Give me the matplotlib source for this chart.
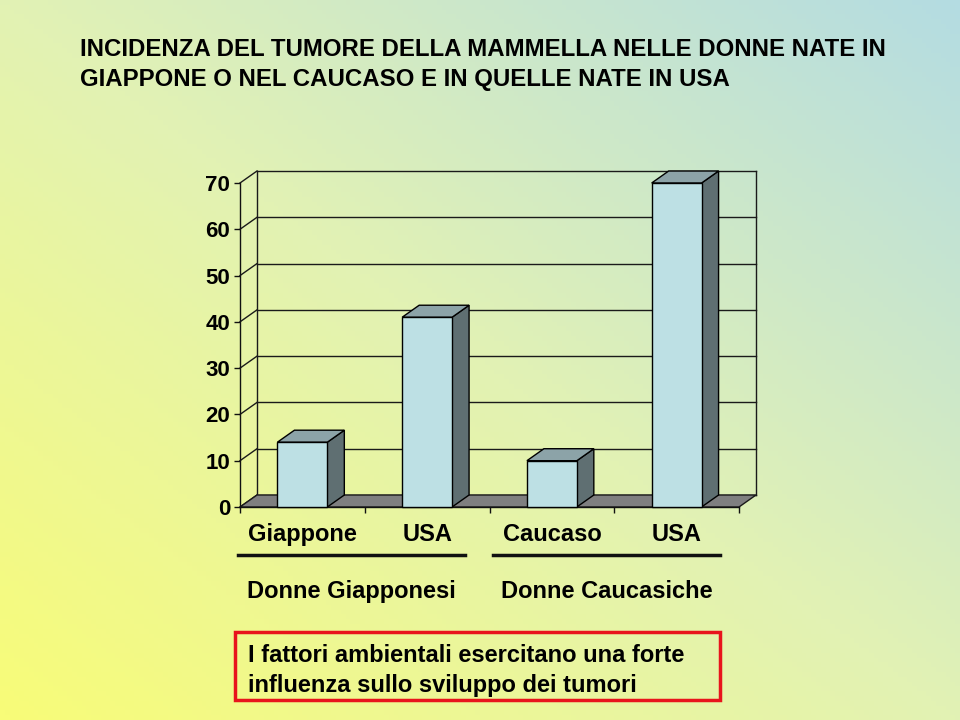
import numpy as np
import matplotlib
matplotlib.use('Agg')
import matplotlib.pyplot as plt
from matplotlib.colors import LinearSegmentedColormap
from matplotlib.patches import Polygon, Rectangle
from matplotlib.lines import Line2D
from matplotlib.transforms import blended_transform_factory

# dati
categorie = ["Giappone", "USA", "Caucaso", "USA"]
valori = [14, 41, 10, 70]
gruppi = ["Donne Giapponesi", "Donne Caucasiche"]
titolo = ["INCIDENZA DEL TUMORE DELLA MAMMELLA NELLE DONNE NATE IN",
          "GIAPPONE O NEL CAUCASO E IN QUELLE NATE IN USA"]
nota = ["I fattori ambientali esercitano una forte",
        "influenza sullo sviluppo dei tumori"]
yticks = np.arange(0, 80, 10)

plt.rcParams['font.family'] = ['Liberation Sans', 'DejaVu Sans']
plt.rcParams['font.weight'] = 'bold'

W, H = 960, 720
fig = plt.figure(figsize=(W / 100, H / 100), dpi=100)

# sfondo sfumato giallo -> azzurro
bg = fig.add_axes([0, 0, 1, 1], zorder=-10)
u, v = np.meshgrid(np.linspace(0, 1, 200), np.linspace(1, 0, 150))
cmap = LinearSegmentedColormap.from_list("bg", ["#f8fc78", "#e2f2b4", "#b4dce2"])
bg.imshow((u + v) / 2, cmap=cmap, vmin=0, vmax=1, aspect='auto', extent=[0, 1, 0, 1])
bg.axis('off')

# piano frontale del grafico
ax = fig.add_axes([240 / W, 1 - 507 / H, 499 / W, 324 / H])
ax.set_xlim(0, len(categorie))
ax.set_ylim(0, 70)
ax.patch.set_alpha(0)
for s in ['top', 'right']:
    ax.spines[s].set_visible(False)
for s in ['left', 'bottom']:
    ax.spines[s].set_color('#111111')
    ax.spines[s].set_linewidth(1)

# profondita' 3D in unita' dati (17 px a destra, 12 px in alto)
o = ax.transData.transform((0, 0))
ddx, ddy = ax.transData.inverted().transform(o + np.array([17, 12]))

lc = '#1a1a1a'
x0, x1 = 0, len(categorie)
# griglia parete di fondo e parete sinistra
for t in yticks:
    ax.plot([x0 + ddx, x1 + ddx], [t + ddy, t + ddy], color=lc, lw=1, clip_on=False, zorder=1)
    ax.plot([x0, x0 + ddx], [t, t + ddy], color=lc, lw=1, clip_on=False, zorder=1)
ax.plot([x0 + ddx, x0 + ddx], [ddy, 70 + ddy], color=lc, lw=1, clip_on=False, zorder=1)
ax.plot([x1 + ddx, x1 + ddx], [ddy, 70 + ddy], color=lc, lw=1, clip_on=False, zorder=1)

# pavimento
ax.add_patch(Polygon([(x0, 0), (x1, 0), (x1 + ddx, ddy), (x0 + ddx, ddy)],
                     facecolor='#7f7f80', edgecolor=lc, lw=1, clip_on=False, zorder=2))

# barre 3D
bw = 0.4
for i, val in enumerate(valori):
    xc = i + 0.5
    l, r = xc - bw / 2, xc + bw / 2
    ax.add_patch(Polygon([(r, 0), (r, val), (r + ddx, val + ddy), (r + ddx, ddy)],
                         facecolor='#5f6f72', edgecolor='black', lw=1, clip_on=False, zorder=3))
    ax.add_patch(Polygon([(l, val), (r, val), (r + ddx, val + ddy), (l + ddx, val + ddy)],
                         facecolor='#8ca3a8', edgecolor='black', lw=1, clip_on=False, zorder=3))
    ax.bar(xc, val, width=bw, color='#bde0e4', edgecolor='black', lw=1, zorder=4, clip_on=False)

ax.set_yticks(yticks)
ax.set_yticklabels([str(t) for t in yticks], fontsize=16, fontweight='bold')
ax.set_xticks(np.arange(0, len(categorie) + 1))
ax.set_xticklabels([])
ax.tick_params(length=4, width=1, color='#111111', direction='out', pad=3)

# etichette categorie
tr = blended_transform_factory(ax.transData, fig.transFigure)
for i, c in enumerate(categorie):
    ax.text(i + 0.5, 1 - 541 / H, c, transform=tr, ha='center', va='baseline',
            fontsize=17, fontweight='bold')

# linee e nomi dei gruppi
linee = [(238, 465), (493, 720)]
for (a, b), g in zip(linee, gruppi):
    fig.add_artist(Line2D([a / W, b / W], [1 - 555 / H] * 2, color='#111111', lw=2.5))
    fig.text((a + b) / 2 / W, 1 - 598 / H, g, ha='center', va='baseline',
             fontsize=17, fontweight='bold')

# titolo
for k, riga in enumerate(titolo):
    fig.text(80 / W, 1 - (56 + 30 * k) / H, riga, ha='left', va='baseline',
             fontsize=17.3, fontweight='bold')

# riquadro rosso
fig.add_artist(Rectangle((235 / W, 1 - 700 / H), 485 / W, 68 / H, transform=fig.transFigure,
                         facecolor='none', edgecolor='#e8141c', lw=2.5))
for k, riga in enumerate(nota):
    fig.text(248 / W, 1 - (662 + 30 * k) / H, riga, ha='left', va='baseline',
             fontsize=17, fontweight='bold')

fig.savefig("out.png", dpi=100)
